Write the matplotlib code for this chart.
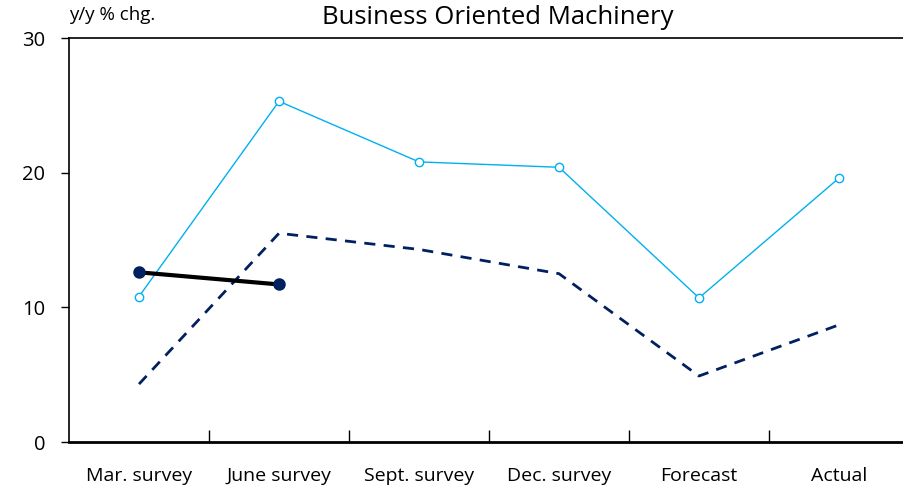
import numpy as np
import matplotlib
matplotlib.use('Agg')
import matplotlib.pyplot as plt

plt.rcParams['font.family'] = ['Open Sans', 'DejaVu Sans']

categories = ["Mar. survey", "June survey", "Sept. survey", "Dec. survey", "Forecast", "Actual"]
light_blue = [10.8, 25.3, 20.8, 20.4, 10.7, 19.6]
dashed_navy = [4.3, 15.5, 14.3, 12.5, 4.9, 8.7]
black_line = [12.6, 11.7]

x = np.arange(len(categories))

fig = plt.figure(figsize=(9.04, 4.9), dpi=100)
ax = fig.add_axes([69/904, 48/490, 835/904, 404/490])

ax.plot(x, light_blue, color='#00B0F0', lw=1.0, marker='o', ms=6,
        markerfacecolor='white', markeredgecolor='#00B0F0', markeredgewidth=1.0)
ax.plot(x, dashed_navy, color='#002060', lw=2.0, ls=(0, (4, 3)))
ax.plot(x[:2], black_line, color='black', lw=3.0, marker='o', ms=8,
        markerfacecolor='#002060', markeredgecolor='#002060')

ax.set_xlim(-0.5, -0.5 + 835/140)
ax.set_ylim(0, 30)
ax.set_yticks([0, 10, 20, 30])
ax.tick_params(axis='y', direction='out', length=6, width=1, labelsize=14.5, pad=11)

ax.set_xticks(x)
ax.set_xticklabels(categories)
ax.set_xticks(np.arange(0.5, 5, 1), minor=True)
ax.tick_params(axis='x', which='major', length=0, labelsize=14, pad=18)
ax.tick_params(axis='x', which='minor', direction='in', length=9, width=1)

for s in ['right']:
    ax.spines[s].set_visible(False)
for s in ['left', 'bottom', 'top']:
    ax.spines[s].set_color('black')
ax.spines['bottom'].set_linewidth(2)
ax.spines['left'].set_linewidth(1.2)
ax.spines['top'].set_linewidth(1.2)

fig.text(498/904, 1 - 18/490, "Business Oriented Machinery", ha='center', va='center', fontsize=18.5)
fig.text(69/904, 1 - 15/490, "y/y % chg.", ha='left', va='center', fontsize=13.5)

fig.savefig('out.png', dpi=100)
